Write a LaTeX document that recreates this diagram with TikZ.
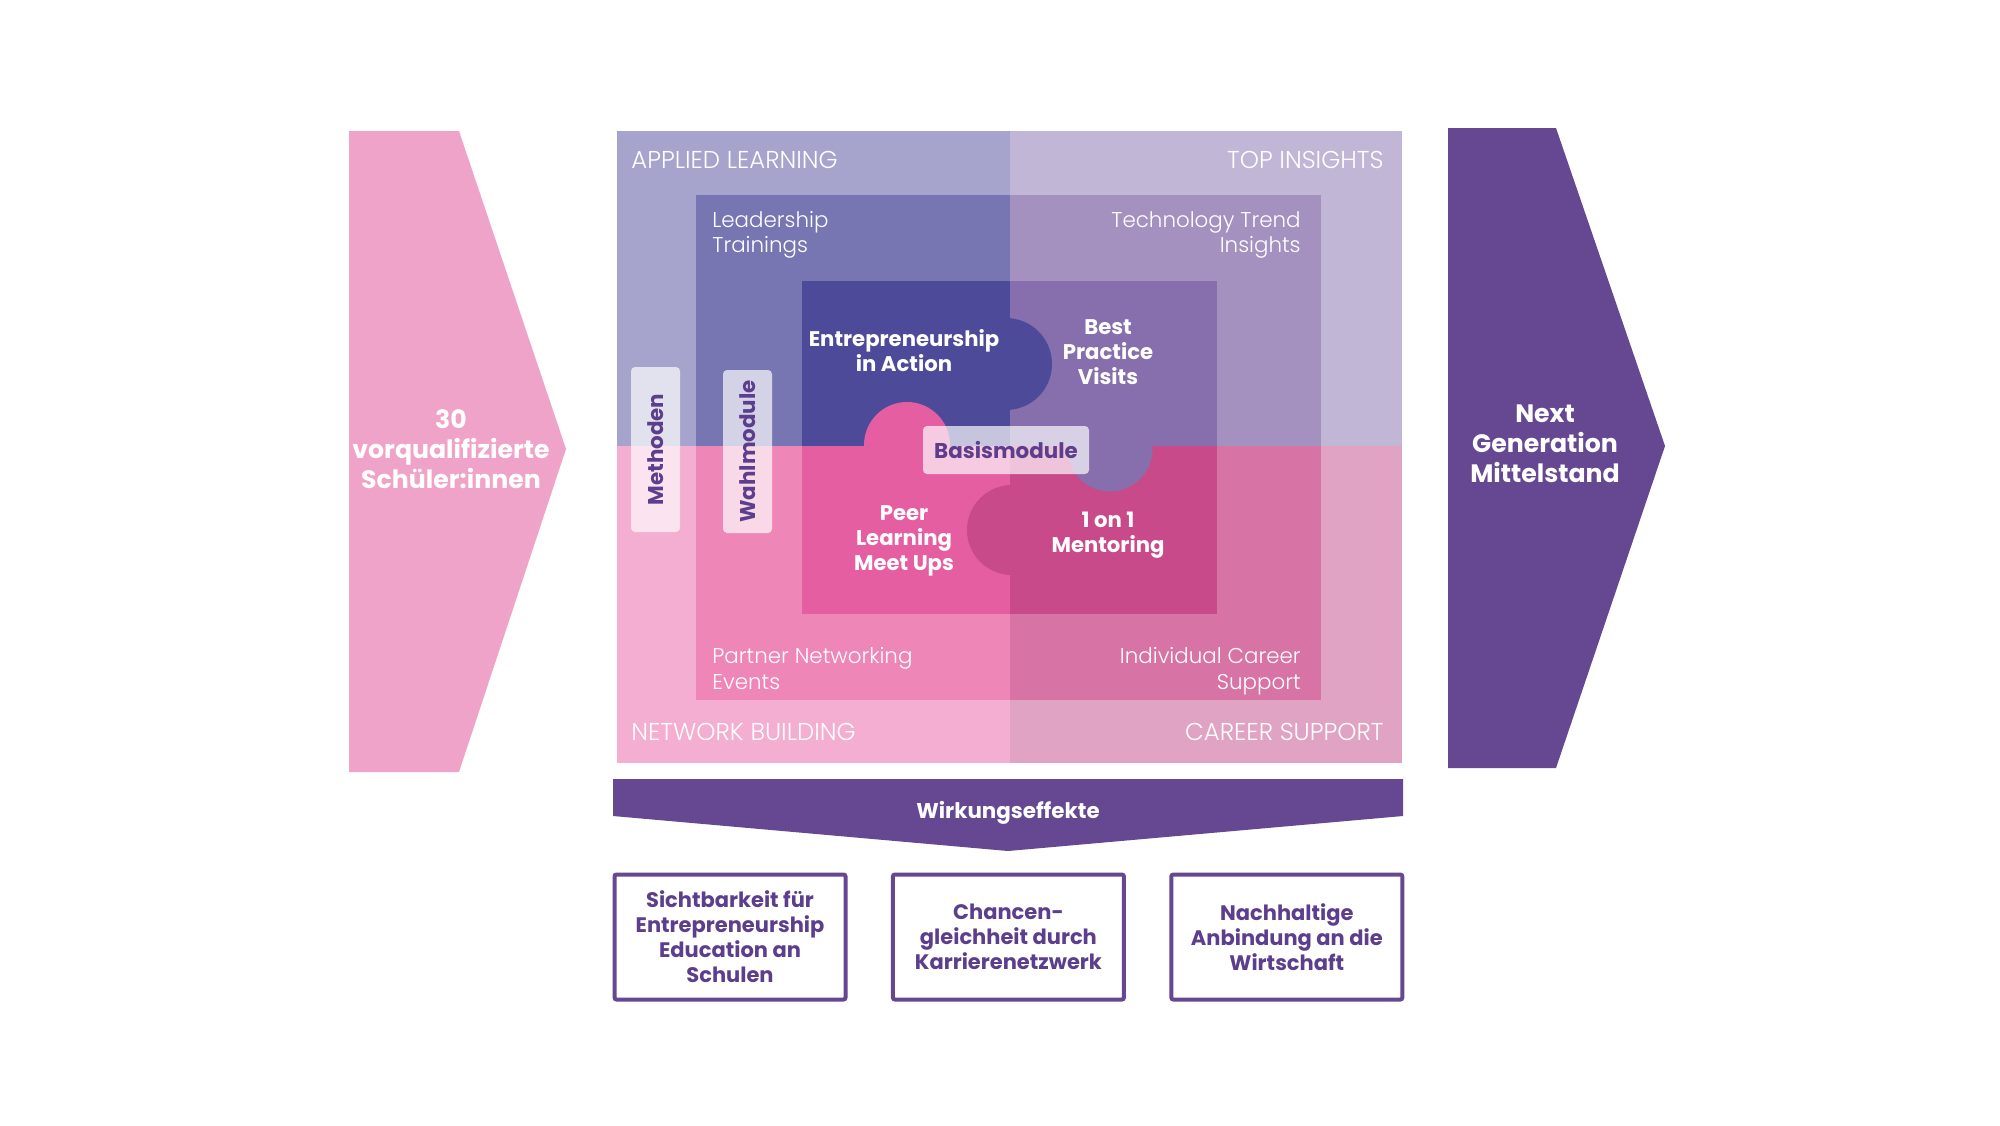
\documentclass[tikz,border=0pt]{standalone}
\usepackage{fontspec}
\setmainfont{Poppins}
\newfontfamily\lightfont{Poppins Light}
\usepackage{tikz}
\usetikzlibrary{positioning}
\definecolor{appliedbg}{HTML}{A6A4CC}
\definecolor{insightbg}{HTML}{C2B6D6}
\definecolor{networkbg}{HTML}{F3AED2}
\definecolor{careerbg}{HTML}{E1A3C3}
\definecolor{leadbg}{HTML}{7876B2}
\definecolor{techbg}{HTML}{A591C0}
\definecolor{partnerbg}{HTML}{EE86B7}
\definecolor{supportbg}{HTML}{D874A5}
\definecolor{eiabg}{HTML}{4D4B99}
\definecolor{visitbg}{HTML}{876FAD}
\definecolor{peerbg}{HTML}{E55EA2}
\definecolor{mentorbg}{HTML}{C84A8A}
\definecolor{inputpink}{HTML}{F0A3C8}
\definecolor{deeppurple}{HTML}{654891}
\definecolor{textpurple}{HTML}{5C3E8D}
\tikzset{
 arealabel/.style={
 inner sep=0pt,
 text=white,
 font=\lightfont\fontsize{12.2}{14}\selectfont
 },
 fieldlabel/.style={
 inner sep=0pt,
 text=white,
 font=\lightfont\fontsize{10.7}{12.75}\selectfont
 },
 piecelabel/.style={
 inner sep=0pt,
 text=white,
 align=center,
 font=\bfseries\fontsize{10.6}{12.5}\selectfont
 },
 modtag/.style={
 rectangle,
 rounded corners=2pt,
 fill=white,
 fill opacity=0.68,
 text opacity=1,
 text=textpurple,
 inner sep=0pt,
 font=\bfseries\fontsize{10.7}{12.5}\selectfont
 },
 arrowtext/.style={
 text=white,
 align=center,
 font=\bfseries\fontsize{12.6}{15}\selectfont
 },
 effectbox/.style={
 rectangle,
 rounded corners=1pt,
 draw=deeppurple,
 line width=2pt,
 fill=white,
 text=textpurple,
 align=center,
 minimum width=115.5pt,
 minimum height=62.5pt,
 inner sep=0pt,
 font=\bfseries\fontsize{10.5}{12.5}\selectfont
 }
}
\begin{document}
\begin{tikzpicture}[x=0.5pt,y=-0.5pt]
 \fill[white] (0,0) rectangle (2000,1125);
 \useasboundingbox (0,0) rectangle (2000,1125);

 % outer field
 \fill[appliedbg] (617,131) rectangle (1010,446);
 \fill[insightbg] (1010,131) rectangle (1402,446);
 \fill[networkbg] (617,446) rectangle (1010,763);
 \fill[careerbg] (1010,446) rectangle (1402,763);
 % middle field
 \fill[leadbg] (696,195) rectangle (1010,446);
 \fill[techbg] (1010,195) rectangle (1321,446);
 \fill[partnerbg] (696,446) rectangle (1010,700);
 \fill[supportbg] (1010,446) rectangle (1321,700);
 % puzzle pieces
 \fill[eiabg] (802,281) rectangle (1010,446);
 \fill[visitbg] (1010,281) rectangle (1217,446);
 \fill[peerbg] (802,446) rectangle (1010,614);
 \fill[mentorbg] (1010,446) rectangle (1217,614);
 \fill[eiabg] (1006,364) circle (46);
 \fill[peerbg] (907,445) circle (43);
 \fill[visitbg] (1110,449) circle (42.5);
 \fill[mentorbg] (1012,530) circle (45);

 \node[arealabel, anchor=west] (applied) at (631,160) {APPLIED LEARNING};
 \node[arealabel, anchor=east] (insights) at (1384,160) {TOP INSIGHTS};
 \node[arealabel, anchor=west] (network) at (631,732) {NETWORK BUILDING};
 \node[arealabel, anchor=east] (career) at (1384,732) {CAREER SUPPORT};

 \node[fieldlabel, anchor=north west, align=left] (leadership) at (712,211) {Leadership\\Trainings};
 \node[fieldlabel, anchor=north east, align=right] (techtrend) at (1301,211) {Technology Trend\\Insights};
 \node[fieldlabel, anchor=north west, align=left] (partner) at (712,647) {Partner Networking\\Events};
 \node[fieldlabel, anchor=north east, align=right] (careersup) at (1301,647) {Individual Career\\Support};

 \node[piecelabel] (eia) at (904,351) {Entrepreneurship\\in Action};
 \node[piecelabel] (bestpractice) at (1108,352) {Best\\Practice\\Visits};
 \node[piecelabel] (peer) at (904,541) {Peer\\Learning\\Meet Ups};
 \node[piecelabel] (mentoring) at (1108,535) {1 on 1\\Mentoring};

 \node[modtag, minimum width=83pt, minimum height=24pt] (basis) at (1006,450) {Basismodule};
 \node[modtag, rotate=90, minimum width=82.5pt, minimum height=24.5pt] (methoden) at (655.5,449.5) {Methoden};
 \node[modtag, rotate=90, minimum width=81.5pt, minimum height=24.5pt] (wahl) at (747.5,451.5) {Wahlmodule};

 % side arrows
 \fill[inputpink] (349,131) -- (459,131) -- (566,449) -- (459,772) -- (349,772) -- cycle;
 \node[arrowtext] (schueler) at (451,449) {30\\vorqualifizierte\\Schüler:innen};
 \fill[deeppurple] (1448,128) -- (1556,128) -- (1665,446) -- (1556,768) -- (1448,768) -- cycle;
 \node[arrowtext] (nextgen) at (1545,444) {Next\\Generation\\Mittelstand};

 % effects
 \fill[deeppurple] (613,779) -- (1403,779) -- (1403,816) -- (1008,851) -- (613,816) -- cycle;
 \node[text=white, font=\bfseries\fontsize{10.7}{12}\selectfont] (wirkung) at (1008,813) {Wirkungseffekte};

 \node[effectbox] (sichtbar) at (730,937) {Sichtbarkeit für\\Entrepreneurship\\Education an\\Schulen};
 \node[effectbox, right=21.7pt of sichtbar] (chancen) {Chancen-\\gleichheit durch\\Karrierenetzwerk};
 \node[effectbox, right=21.7pt of chancen] (anbindung) {Nachhaltige\\Anbindung an die\\Wirtschaft};
\end{tikzpicture}
\end{document}
